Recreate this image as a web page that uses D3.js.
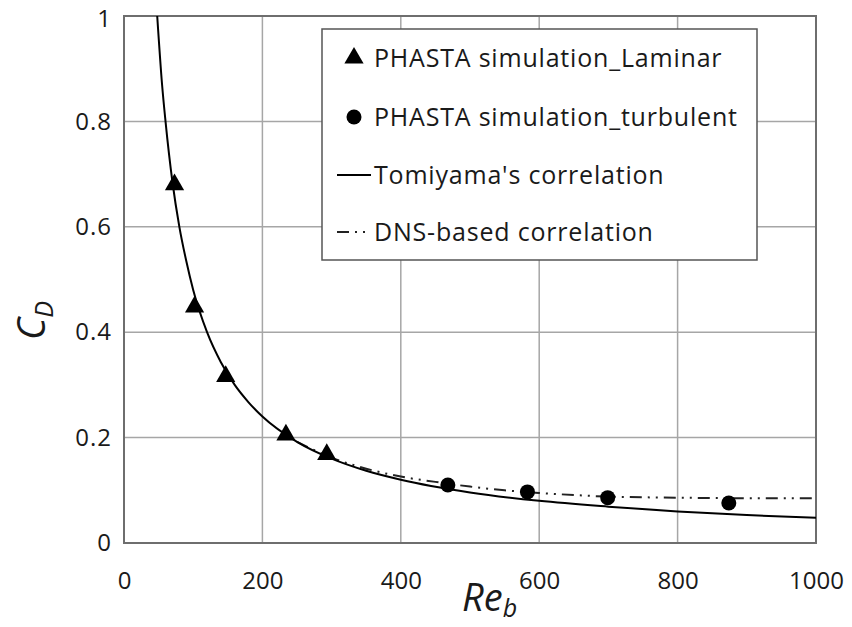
<!DOCTYPE html>
<html>
<head>
<meta charset="utf-8">
<script src="https://cdn.jsdelivr.net/npm/d3@7"></script>
<style>
  body { margin: 0; background: #fff; }
  text { font-family: "Open Sans", Lato, sans-serif; fill: #1a1a1a; }
</style>
</head>
<body>
<div id="chart"></div>
<script>
// values
let xTicks = [0, 200, 400, 600, 800, 1000];
let yTicks = [0, 0.2, 0.4, 0.6, 0.8, 1];

let laminarRe = [73, 102, 147, 234, 293];
let laminarCd = [0.68, 0.448, 0.316, 0.205, 0.168];

let turbulentRe = [468, 583, 699, 874];
let turbulentCd = [0.110, 0.097, 0.086, 0.076];

let tomiyamaRe = [48, 55, 60, 70, 80, 90, 100, 120, 140, 160, 180, 200, 250, 300, 350, 400, 500, 600, 700, 800, 900, 1000];
let tomiyamaCd = [1.0, 0.87, 0.80, 0.685, 0.60, 0.535, 0.48, 0.40, 0.343, 0.30, 0.267, 0.24, 0.192, 0.16, 0.137, 0.12, 0.096, 0.08, 0.069, 0.06, 0.053, 0.048];

let dnsRe = [250, 300, 350, 400, 450, 500, 550, 600, 650, 700, 800, 900, 1000];
let dnsCd = [0.192, 0.162, 0.141, 0.126, 0.116, 0.107, 0.100, 0.095, 0.091, 0.088, 0.086, 0.085, 0.085];

let legendLabels = ["PHASTA simulation_Laminar", "PHASTA simulation_turbulent", "Tomiyama's correlation", "DNS-based correlation"];

let W = 852, H = 627;
let margin = {top: 16, right: 36, bottom: 84, left: 124};
let width = W - margin.left - margin.right;
let height = H - margin.top - margin.bottom;

let svg = d3.select("#chart").append("svg")
    .attr("width", W)
    .attr("height", H);

let g = svg.append("g")
    .attr("transform", `translate(${margin.left}, ${margin.top})`);

let x = d3.scaleLinear().domain([0, 1000]).range([0, width]);
let y = d3.scaleLinear().domain([0, 1]).range([height, 0]);

// grid lines
g.append("g").selectAll("line.vgrid")
    .data(xTicks.slice(1, -1))
    .join("line")
    .attr("x1", d => x(d)).attr("x2", d => x(d))
    .attr("y1", 0).attr("y2", height)
    .attr("stroke", "#a6a6a6").attr("stroke-width", 1.5);

g.append("g").selectAll("line.hgrid")
    .data(yTicks.slice(1, -1))
    .join("line")
    .attr("x1", 0).attr("x2", width)
    .attr("y1", d => y(d)).attr("y2", d => y(d))
    .attr("stroke", "#a6a6a6").attr("stroke-width", 1.5);

// axes (labels only, no tick marks)
let xAxis = d3.axisBottom(x).tickValues(xTicks).tickSize(0).tickPadding(29).tickFormat(d3.format("d"));
let yAxis = d3.axisLeft(y).tickValues(yTicks).tickSize(0).tickPadding(12).tickFormat(d => d === 0 || d === 1 ? d : d3.format(".1f")(d));

g.append("g")
    .attr("transform", `translate(0, ${height})`)
    .call(xAxis)
    .call(a => a.select(".domain").remove())
    .selectAll("text").attr("font-size", 24).attr("font-family", "Open Sans").attr("fill", "#1a1a1a");

g.append("g")
    .call(yAxis)
    .call(a => a.select(".domain").remove())
    .selectAll("text").attr("font-size", 24).attr("font-family", "Open Sans").attr("fill", "#1a1a1a")
    .attr("letter-spacing", 1)
    // keep the top label inside the page
    .attr("dy", d => d === 1 ? "0.42em" : "0.32em");

// plot border
g.append("rect")
    .attr("width", width).attr("height", height)
    .attr("fill", "none").attr("stroke", "#6e6e6e").attr("stroke-width", 2);

g.append("clipPath").attr("id", "clip")
    .append("rect").attr("width", width).attr("height", height);

let line = d3.line()
    .x(d => x(d[0]))
    .y(d => y(d[1]))
    .curve(d3.curveMonotoneX);

// DNS-based correlation
g.append("path")
    .datum(d3.zip(dnsRe, dnsCd))
    .attr("clip-path", "url(#clip)")
    .attr("d", line)
    .attr("fill", "none")
    .attr("stroke", "#222")
    .attr("stroke-width", 2)
    .attr("stroke-dasharray", "12,6,2,6,2,6");

// Tomiyama's correlation
g.append("path")
    .datum(d3.zip(tomiyamaRe, tomiyamaCd))
    .attr("clip-path", "url(#clip)")
    .attr("d", line)
    .attr("fill", "none")
    .attr("stroke", "#000")
    .attr("stroke-width", 2);

let tri = d3.symbol().type(d3.symbolTriangle).size(160);

g.append("g").selectAll("path.tri")
    .data(d3.zip(laminarRe, laminarCd))
    .join("path")
    .attr("d", tri)
    .attr("transform", d => `translate(${x(d[0])}, ${y(d[1])})`)
    .attr("fill", "#000");

g.append("g").selectAll("circle")
    .data(d3.zip(turbulentRe, turbulentCd))
    .join("circle")
    .attr("cx", d => x(d[0]))
    .attr("cy", d => y(d[1]))
    .attr("r", 7.5)
    .attr("fill", "#000");

// axis titles
svg.append("text")
    .attr("x", 462).attr("y", 611)
    .attr("font-family", "Liberation Serif").attr("font-style", "italic")
    .attr("font-size", 38)
    .html('Re<tspan dy="6" font-size="25">b</tspan>');

svg.append("text")
    .attr("transform", "translate(45, 340) rotate(-90)")
    .attr("font-family", "Liberation Serif").attr("font-style", "italic")
    .attr("font-size", 38)
    .html('C<tspan dy="8" font-size="25">D</tspan>');

// legend
let legend = svg.append("g");
legend.append("rect")
    .attr("x", 322).attr("y", 29).attr("width", 435).attr("height", 231)
    .attr("fill", "#fff").attr("stroke", "#555").attr("stroke-width", 1.5);

let rowY = [58, 117, 175, 232];

legend.append("path")
    .attr("d", tri)
    .attr("transform", `translate(354, ${rowY[0]})`)
    .attr("fill", "#000");
legend.append("circle")
    .attr("cx", 354).attr("cy", rowY[1]).attr("r", 7.5).attr("fill", "#000");
legend.append("line")
    .attr("x1", 337).attr("x2", 371).attr("y1", rowY[2]).attr("y2", rowY[2])
    .attr("stroke", "#000").attr("stroke-width", 2);
legend.append("line")
    .attr("x1", 337).attr("x2", 371).attr("y1", rowY[3]).attr("y2", rowY[3])
    .attr("stroke", "#222").attr("stroke-width", 2)
    .attr("stroke-dasharray", "12,6,2,6,2,6");

legend.selectAll("text.lab")
    .data(legendLabels)
    .join("text")
    .attr("x", 374)
    .attr("y", (d, i) => rowY[i])
    .attr("dy", "0.35em")
    .attr("font-size", 25)
    .attr("letter-spacing", 0.8)
    .text(d => d);
</script>
</body>
</html>
